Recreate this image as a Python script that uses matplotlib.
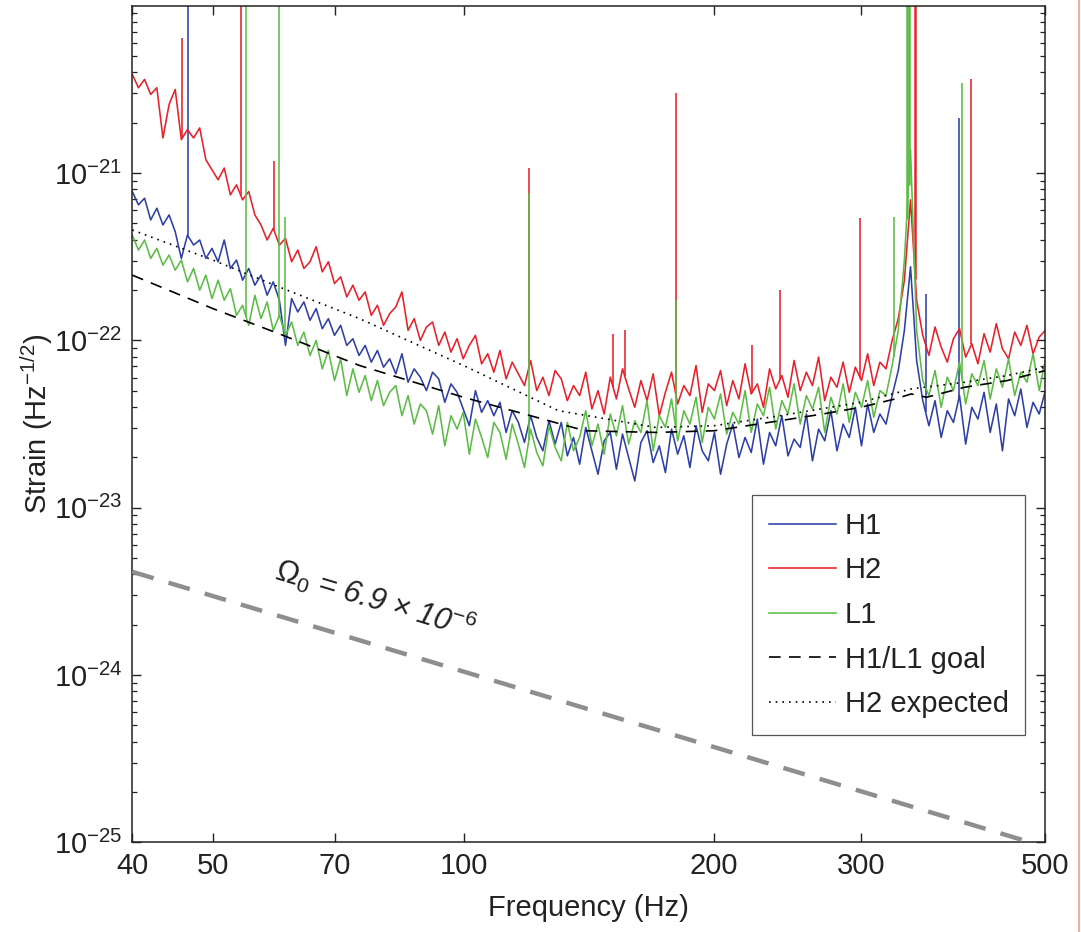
import numpy as np
import matplotlib.pyplot as plt
from matplotlib.lines import Line2D
from matplotlib.ticker import LogLocator, NullFormatter, NullLocator

plt.rcParams['font.family'] = ['Liberation Sans', 'DejaVu Sans']
plt.rcParams['mathtext.fontset'] = 'custom'
plt.rcParams['mathtext.rm'] = 'Liberation Sans'
plt.rcParams['mathtext.it'] = 'Liberation Sans:italic'
plt.rcParams['mathtext.bf'] = 'Liberation Sans:bold'

# frequency bins shared by the three spectra [Hz]
freq = np.geomspace(40.0, 500.0, 150)

# log10 of strain amplitude
h1_log = [
    -21.11, -21.19, -21.15, -21.28, -21.21, -21.31, -21.25, -21.35, -21.51, -21.37,
    -21.43, -21.40, -21.51, -21.45, -21.53, -21.40, -21.57, -21.52, -21.64, -21.57,
    -21.67, -21.61, -21.73, -21.65, -21.76, -22.03, -21.75, -21.83, -21.77, -21.88,
    -21.81, -21.93, -21.87, -21.97, -21.91, -22.03, -21.99, -22.09, -22.03, -22.13,
    -22.06, -22.16, -22.11, -22.20, -22.08, -22.25, -22.17, -22.22, -22.30, -22.19,
    -22.23, -22.37, -22.26, -22.31, -22.41, -22.51, -22.30, -22.43, -22.36, -22.45,
    -22.37, -22.55, -22.42, -22.49, -22.61, -22.45, -22.58, -22.66, -22.48, -22.62,
    -22.49, -22.69, -22.58, -22.74, -22.52, -22.66, -22.80, -22.60, -22.55, -22.77,
    -22.56, -22.70, -22.84, -22.61, -22.54, -22.73, -22.63, -22.79, -22.53, -22.68,
    -22.57, -22.76, -22.51, -22.66, -22.72, -22.55, -22.80, -22.62, -22.50, -22.70,
    -22.58, -22.67, -22.47, -22.74, -22.55, -22.63, -22.45, -22.69, -22.59, -22.64,
    -22.44, -22.72, -22.53, -22.60, -22.42, -22.66, -22.50, -22.58, -22.40, -22.63,
    -22.38, -22.55, -22.44, -22.50, -22.33, -22.18, -21.94, -21.56, -22.12, -22.36,
    -22.51, -22.36, -22.58, -22.42, -22.49, -22.33, -22.62, -22.40, -22.47, -22.31,
    -22.55, -22.38, -22.66, -22.35, -22.45, -22.29, -22.52, -22.37, -22.44, -22.30,
]
h2_log = [
    -20.41, -20.49, -20.44, -20.53, -20.49, -20.79, -20.59, -20.50, -20.80, -20.74,
    -20.79, -20.73, -20.92, -20.98, -21.04, -20.97, -21.13, -21.07, -21.16, -21.11,
    -21.25, -21.31, -21.40, -21.33, -21.43, -21.39, -21.53, -21.46, -21.57, -21.53,
    -21.44, -21.59, -21.53, -21.66, -21.62, -21.74, -21.67, -21.76, -21.71, -21.85,
    -21.79, -21.91, -21.84, -21.80, -21.71, -21.94, -21.87, -22.00, -21.92, -21.89,
    -22.03, -21.95, -22.07, -21.99, -22.11, -22.03, -21.97, -22.14, -22.08, -22.19,
    -22.06, -22.23, -22.13, -22.20, -22.27, -22.12, -22.30, -22.22, -22.33, -22.18,
    -22.23, -22.36, -22.27, -22.33, -22.19, -22.41, -22.30, -22.44, -22.22, -22.35,
    -22.17, -22.29, -22.40, -22.24, -22.36, -22.20, -22.45, -22.31, -22.19, -22.38,
    -22.27, -22.33, -22.15, -22.43, -22.26, -22.30, -22.18, -22.39, -22.24, -22.35,
    -22.14, -22.32, -22.26, -22.40, -22.17, -22.29, -22.21, -22.34, -22.12, -22.30,
    -22.19, -22.27, -22.10, -22.36, -22.22, -22.28, -22.13, -22.31, -22.16, -22.24,
    -22.08, -22.27, -22.13, -22.17, -22.00, -21.87, -21.64, -21.16, -21.76, -21.97,
    -22.09, -21.92, -22.04, -22.13, -21.99, -21.93, -22.10, -22.02, -22.14, -21.96,
    -22.07, -21.90, -22.05, -22.11, -21.95, -22.03, -21.91, -22.08, -21.98, -21.94,
]
l1_log = [
    -21.37, -21.46, -21.40, -21.51, -21.45, -21.55, -21.49, -21.58, -21.52, -21.65,
    -21.57, -21.70, -21.61, -21.75, -21.64, -21.76, -21.69, -21.85, -21.79, -21.91,
    -21.73, -21.87, -21.77, -21.94, -21.85, -21.97, -21.89, -22.03, -21.95, -22.09,
    -22.00, -22.17, -22.06, -22.24, -22.11, -22.33, -22.17, -22.31, -22.21, -22.36,
    -22.24, -22.39, -22.31, -22.27, -22.45, -22.33, -22.50, -22.38, -22.42, -22.56,
    -22.39, -22.63, -22.45, -22.53, -22.43, -22.68, -22.47, -22.58, -22.70, -22.49,
    -22.55, -22.71, -22.50, -22.62, -22.76, -22.53, -22.67, -22.75, -22.51, -22.64,
    -22.72, -22.49, -22.66, -22.58, -22.42, -22.63, -22.50, -22.68, -22.44, -22.57,
    -22.39, -22.62, -22.48, -22.55, -22.36, -22.66, -22.45, -22.52, -22.35, -22.60,
    -22.42, -22.50, -22.34, -22.61, -22.40, -22.47, -22.32, -22.56, -22.43, -22.50,
    -22.30, -22.55, -22.38, -22.45, -22.28, -22.53, -22.36, -22.44, -22.26, -22.50,
    -22.33, -22.41, -22.28, -22.55, -22.34, -22.44, -22.26, -22.49, -22.31, -22.40,
    -22.24, -22.46, -22.30, -22.33, -22.15, -21.94, -21.52, -20.86, -21.94, -22.24,
    -22.33, -22.18, -22.40, -22.22, -22.30, -22.13, -22.38, -22.20, -22.27, -22.12,
    -22.35, -22.17, -22.28, -22.11, -22.33, -22.19, -22.25, -22.08, -22.30, -22.12,
]

# narrow lines: frequency [Hz] and log10 of the peak (-19.8 = off the top)
h1_line_f = [46.6, 359.0, 393.6]
h1_line_top = [-19.8, -21.72, -20.67]
h2_line_f = [45.9, 54.0, 59.2, 119.8, 151.2, 156.2, 179.9, 222.0, 240.0, 299.8, 407.6]
h2_line_top = [-20.19, -19.8, -20.93, -20.97, -21.96, -21.94, -20.52, -22.03, -21.70, -21.27, -20.44]
l1_line_f = [54.8, 60.0, 61.0, 119.8, 179.9, 328.6, 397.0]
l1_line_top = [-19.8, -19.8, -21.26, -21.12, -21.76, -21.26, -20.46]
# violin-mode resonance (drawn wider)
h2_res_f = [349.0]
l1_res_f = [340.7, 342.5]

# smooth design curves
goal_f = [40, 50, 60, 75, 100, 140, 170, 200, 240, 270, 300, 330, 345, 360, 400, 450, 500]
goal_log = [-21.61, -21.81, -21.96, -22.15, -22.34, -22.54, -22.55, -22.54, -22.48, -22.44,
            -22.40, -22.35, -22.32, -22.34, -22.28, -22.24, -22.18]
exp_f = [40, 50, 60, 75, 100, 130, 170, 200, 240, 300, 345, 400, 450, 500]
exp_log = [-21.34, -21.52, -21.68, -21.87, -22.15, -22.42, -22.52, -22.51, -22.45, -22.37,
           -22.29, -22.25, -22.21, -22.16]

# Omega_0 = 6.9e-6 stochastic background line (end points)
omega_f = [40, 500]
omega_h = [4.14e-24, 9.4e-26]

C_H1 = '#2e3fa6'
C_H2 = '#e8202a'
C_L1 = '#5cbc46'
LW = 1.15


def draw_lines(ax, f_lines, top_log, base_log, color, lw=LW):
    base = np.interp(np.log10(f_lines), np.log10(freq), base_log)
    ax.vlines(f_lines, 10.0 ** base, 10.0 ** np.array(top_log), color=color, lw=lw, zorder=2)


fig = plt.figure(figsize=(10.81, 9.32), dpi=100)
ax = fig.add_axes([0.1224, 0.0962, 0.8446, 0.8976])
ax.set_xscale('log')
ax.set_yscale('log')

ax.plot(freq, 10.0 ** np.array(h1_log), color=C_H1, lw=LW, label='H1', zorder=2)
draw_lines(ax, h1_line_f, h1_line_top, h1_log, C_H1)
ax.plot(freq, 10.0 ** np.array(h2_log), color=C_H2, lw=LW, label='H2', zorder=2)
draw_lines(ax, h2_line_f, h2_line_top, h2_log, C_H2)
draw_lines(ax, h2_res_f, [-19.8], h2_log, C_H2, lw=1.8)
ax.plot(freq, 10.0 ** np.array(l1_log), color=C_L1, lw=LW, label='L1', zorder=2)
draw_lines(ax, l1_line_f, l1_line_top, l1_log, C_L1)
draw_lines(ax, l1_res_f, [-19.8, -19.8], l1_log, C_L1, lw=1.8)

ax.plot(goal_f, 10.0 ** np.array(goal_log), color='black', lw=1.2,
        linestyle=(0, (7, 5)), label='H1/L1 goal', zorder=3)
ax.plot(exp_f, 10.0 ** np.array(exp_log), color='black', lw=1.2,
        linestyle=(0, (1, 3)), label='H2 expected', zorder=3)

ax.plot(omega_f, omega_h, color='#8e8e8e', lw=3.2, linestyle=(0, (5, 3.5)), zorder=3)
ax.text(78.3, 2.88e-24, r'$\mathit{\Omega_0}$ = 6.9 × 10$^{\mathit{-6}}$', fontsize=22,
        style='italic', rotation=-16.8, ha='center', va='center', rotation_mode='anchor',
        color='#222222')

ax.set_xlim(40, 500)
ax.set_ylim(1e-25, 1e-20)

x_ticks = [40, 50, 70, 100, 200, 300, 500]
ax.set_xticks(x_ticks, labels=[str(t) for t in x_ticks])
ax.xaxis.set_minor_locator(NullLocator())
y_ticks = [1e-25, 1e-24, 1e-23, 1e-22, 1e-21]
ax.set_yticks(y_ticks, labels=[r'$10^{%d}$' % e for e in range(-25, -20)])
ax.yaxis.set_minor_locator(LogLocator(base=10, subs=np.arange(2, 10), numticks=20))
ax.yaxis.set_minor_formatter(NullFormatter())

ax.tick_params(which='both', direction='in', top=True, right=True, labelsize=21,
               colors='#222222')
ax.tick_params(which='major', length=6.5, width=1.0, pad=7)
ax.tick_params(which='minor', length=3.6, width=0.9)
for s in ax.spines.values():
    s.set_linewidth(1.1)
    s.set_color('#222222')

ax.set_xlabel('Frequency (Hz)', fontsize=21, color='#222222', labelpad=10)
ax.set_ylabel('Strain (Hz$^{-1/2}$)', fontsize=21, color='#222222', labelpad=-1)

leg = ax.legend(loc='upper right', bbox_to_anchor=(0.978, 0.415), borderaxespad=0.0,
                fontsize=21, frameon=True, fancybox=False, framealpha=1.0,
                edgecolor='#555555', handlelength=2.3, handletextpad=0.3,
                labelspacing=0.57, borderpad=0.57)
leg.get_frame().set_linewidth(0.9)
for t in leg.get_texts():
    t.set_color('#222222')

# thin coloured border at the right edge of the original scan
fig.add_artist(Line2D([1079 / 1081, 1079 / 1081], [0, 1], color='#f2b0a4', lw=1.5))

fig.savefig('out.png', dpi=100)
